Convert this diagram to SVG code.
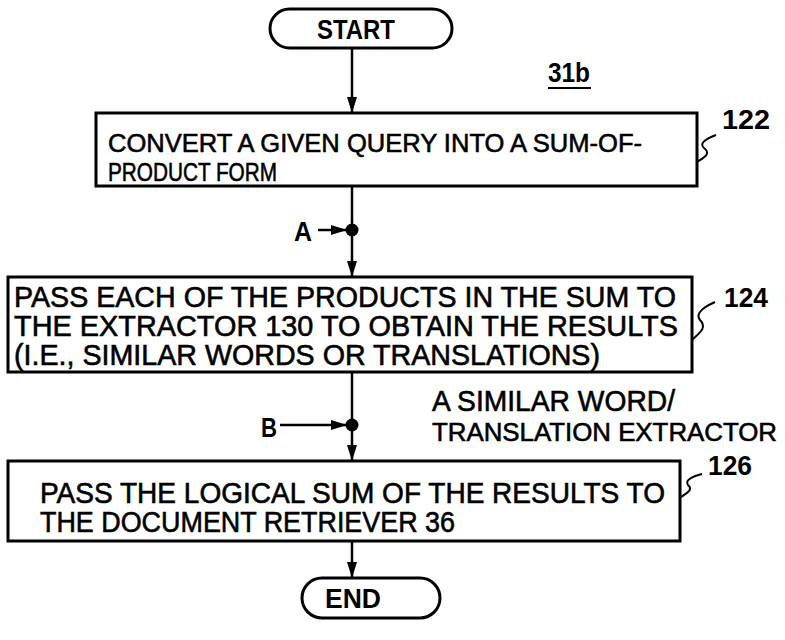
<svg xmlns="http://www.w3.org/2000/svg" width="785" height="640" viewBox="0 0 785 640">
<style>
.box{fill:#fff;stroke:#000;stroke-width:3}
.ln{fill:none;stroke:#000;stroke-width:2.5}
.sq{fill:none;stroke:#000;stroke-width:2}
text{font-family:"Liberation Sans",Arial,sans-serif;fill:#000;stroke:#000;stroke-width:0.6}
.t{font-size:29px}
.t1{font-size:26px}
.tx{font-size:26px}
.lab{font-size:27px;font-weight:bold;stroke-width:0}
</style>
<defs>
<marker id="ahv" viewBox="0 0 16 12" refX="16" refY="6" markerWidth="16" markerHeight="12" markerUnits="userSpaceOnUse" orient="auto">
<path d="M0,1 L16,6 L0,11 z" fill="#000"/>
</marker>
</defs>
<rect width="785" height="640" fill="#fff"/>
<g id="connectors">
<line class="ln" x1="352" y1="48" x2="352" y2="113" marker-end="url(#ahv)"/>
<line class="ln" x1="352" y1="186" x2="352" y2="277" marker-end="url(#ahv)"/>
<line class="ln" x1="352" y1="372" x2="352" y2="461" marker-end="url(#ahv)"/>
<line class="ln" x1="352" y1="541" x2="352" y2="578" marker-end="url(#ahv)"/>
<line class="ln" x1="318" y1="230" x2="347" y2="230" marker-end="url(#ahv)"/>
<line class="ln" x1="280" y1="425" x2="347" y2="425" marker-end="url(#ahv)"/>
<circle cx="352" cy="230" r="6.5" fill="#000"/>
<circle cx="352" cy="425" r="6.5" fill="#000"/>
</g>
<g id="start">
<rect class="box" x="270" y="9" width="182" height="39" rx="19.5"/>
<text class="lab" x="356" y="39" text-anchor="middle" textLength="78" lengthAdjust="spacingAndGlyphs">START</text>
</g>
<g id="ref31b">
<text class="lab" x="548" y="82" textLength="42" lengthAdjust="spacingAndGlyphs">31b</text>
<line x1="548" y1="88" x2="591" y2="88" stroke="#000" stroke-width="2"/>
</g>
<g id="n122">
<rect class="box" x="96" y="113" width="601" height="73"/>
<text class="t1" x="108" y="152" textLength="534" lengthAdjust="spacingAndGlyphs">CONVERT A GIVEN QUERY INTO A SUM-OF-</text>
<text class="t1" x="108" y="181" textLength="169" lengthAdjust="spacingAndGlyphs">PRODUCT FORM</text>
<path class="sq" d="M697,162 C703,158 712,154 704,148 C698,143 708,138 716,135"/>
<text class="lab" x="722" y="129" textLength="48" lengthAdjust="spacingAndGlyphs">122</text>
</g>
<g id="labelA">
<text class="lab" x="294" y="241" textLength="18" lengthAdjust="spacingAndGlyphs">A</text>
</g>
<g id="n124">
<rect class="box" x="8" y="277" width="684" height="95"/>
<text class="t" x="14" y="307" textLength="662" lengthAdjust="spacingAndGlyphs">PASS EACH OF THE PRODUCTS IN THE SUM TO</text>
<text class="t" x="14" y="336" textLength="664" lengthAdjust="spacingAndGlyphs">THE EXTRACTOR 130 TO OBTAIN THE RESULTS</text>
<text class="t" x="14" y="365" textLength="586" lengthAdjust="spacingAndGlyphs">(I.E., SIMILAR WORDS OR TRANSLATIONS)</text>
<path class="sq" d="M692,340 C698,334 708,328 700,320 C694,313 706,306 715,302"/>
<text class="lab" x="724" y="307" textLength="44" lengthAdjust="spacingAndGlyphs">124</text>
</g>
<g id="labelB">
<text class="lab" x="261" y="437" textLength="16" lengthAdjust="spacingAndGlyphs">B</text>
</g>
<g id="extractor">
<text class="t" x="432" y="411" textLength="243" lengthAdjust="spacingAndGlyphs">A SIMILAR WORD/</text>
<text class="tx" x="432" y="441" textLength="345" lengthAdjust="spacingAndGlyphs">TRANSLATION EXTRACTOR</text>
</g>
<g id="n126">
<rect class="box" x="8" y="461" width="672" height="80"/>
<text class="t" x="40" y="503" textLength="625" lengthAdjust="spacingAndGlyphs">PASS THE LOGICAL SUM OF THE RESULTS TO</text>
<text class="t" x="40" y="532" textLength="415" lengthAdjust="spacingAndGlyphs">THE DOCUMENT RETRIEVER 36</text>
<path class="sq" d="M680,498 C686,493 694,490 688,485 C684,480 694,476 702,474"/>
<text class="lab" x="708" y="475" textLength="44" lengthAdjust="spacingAndGlyphs">126</text>
</g>
<g id="end">
<rect class="box" x="302" y="578" width="138" height="40" rx="20"/>
<text class="lab" x="353" y="608" text-anchor="middle" textLength="56" lengthAdjust="spacingAndGlyphs">END</text>
</g>
</svg>
